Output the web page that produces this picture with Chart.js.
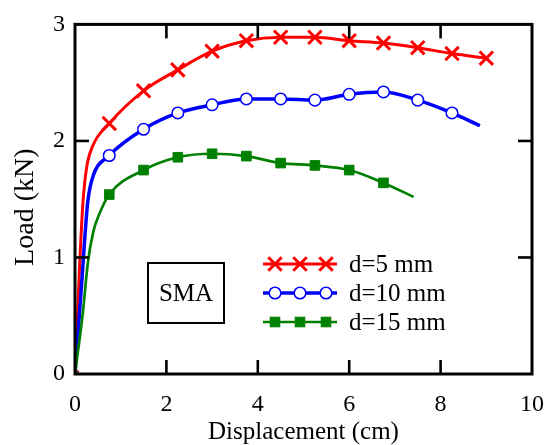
<!DOCTYPE html>
<html><head><meta charset="utf-8">
<script src="https://cdn.jsdelivr.net/npm/chart.js@4.4.1/dist/chart.umd.min.js"></script>
<style>html,body{margin:0;padding:0;background:#fff;} canvas{display:block;}</style>
</head><body>
<canvas id="c" width="560" height="445"></canvas>
<script>
// ---- data ----
const xTickValues = [0, 2, 4, 6, 8, 10];
const yTickValues = [0, 1, 2, 3];
const seriesNames = ['d=5 mm', 'd=10 mm', 'd=15 mm'];

// marker points (cm, kN)
const mark5X  = [0, 0.75, 1.5, 2.25, 3, 3.75, 4.5, 5.25, 6, 6.75, 7.5, 8.25, 9];
const mark5Y  = [0, 2.15, 2.43, 2.61, 2.77, 2.86, 2.89, 2.89, 2.86, 2.84, 2.80, 2.75, 2.71];
const mark10X = [0, 0.75, 1.5, 2.25, 3, 3.75, 4.5, 5.25, 6, 6.75, 7.5, 8.25];
const mark10Y = [0, 1.875, 2.10, 2.24, 2.31, 2.36, 2.36, 2.35, 2.40, 2.42, 2.35, 2.24];
const mark15X = [0, 0.75, 1.5, 2.25, 3, 3.75, 4.5, 5.25, 6, 6.75];
const mark15Y = [0, 1.54, 1.75, 1.86, 1.89, 1.87, 1.81, 1.79, 1.75, 1.64];

// extra curve points without markers (initial rise and curve ends)
const curve5X  = [0.10, 0.17, 0.25, 0.38];
const curve5Y  = [0.92, 1.45, 1.76, 1.95];
const curve10X = [0.15, 0.22, 0.28, 0.38, 8.86];
const curve10Y = [0.80, 1.20, 1.48, 1.68, 2.13];
const curve15X = [0.17, 0.28, 0.40, 0.53, 7.41];
const curve15Y = [0.52, 0.95, 1.22, 1.37, 1.52];

function buildPoints(mx, my, cx, cy) {
  const pts = mx.map((x, i) => ({x: x, y: my[i], m: true}));
  cx.forEach((x, i) => pts.push({x: x, y: cy[i], m: false}));
  pts.sort((a, b) => a.x - b.x);
  return pts;
}

const RED = '#ff0000', BLUE = '#0000ff', GREEN = '#008000';
const SERIF = "'Liberation Serif', 'Times New Roman', serif";

const styles = [
  {color: RED,   lw: 3,   style: 'crossRot', r: 9.5, fill: RED,   bw: 3},
  {color: BLUE,  lw: 3.5, style: 'circle',   r: 5.8, fill: '#ffffff', bw: 1.5},
  {color: GREEN, lw: 2.7, style: 'rect',     r: 6.8, fill: GREEN, bw: 1}
];

const pointSets = [
  buildPoints(mark5X, mark5Y, curve5X, curve5Y),
  buildPoints(mark10X, mark10Y, curve10X, curve10Y),
  buildPoints(mark15X, mark15Y, curve15X, curve15Y)
];

const datasets = pointSets.map((pts, i) => {
  const s = styles[i];
  return {
    label: seriesNames[i],
    data: pts,
    borderColor: s.color,
    borderWidth: s.lw,
    backgroundColor: s.fill,
    pointStyle: s.style,
    pointBorderColor: s.color,
    pointBackgroundColor: s.fill,
    pointBorderWidth: s.bw,
    pointRadius: ctx => (ctx.raw && ctx.raw.m) ? (ctx.raw.x === 0 ? s.r * 0.5 : s.r) : 0,
    pointHoverRadius: 0,
    cubicInterpolationMode: 'monotone',
    fill: false,
    order: 3 - i
  };
});

function drawMarker(ctx, s, x, y) {
  ctx.save();
  ctx.strokeStyle = s.color;
  ctx.fillStyle = s.fill;
  ctx.lineWidth = s.bw;
  if (s.style === 'crossRot') {
    const o = s.r * Math.SQRT1_2;
    ctx.beginPath();
    ctx.moveTo(x - o, y - o); ctx.lineTo(x + o, y + o);
    ctx.moveTo(x - o, y + o); ctx.lineTo(x + o, y - o);
    ctx.stroke();
  } else if (s.style === 'circle') {
    ctx.beginPath(); ctx.arc(x, y, s.r, 0, Math.PI * 2);
    ctx.fill(); ctx.stroke();
  } else {
    const h = s.r * Math.SQRT1_2;
    ctx.fillRect(x - h, y - h, 2 * h, 2 * h);
    ctx.strokeRect(x - h, y - h, 2 * h, 2 * h);
  }
  ctx.restore();
}

const framePlugin = {
  id: 'frame',
  afterDatasetsDraw(chart) {
    const {ctx, chartArea: a, scales: {x, y}} = chart;
    ctx.save();
    ctx.strokeStyle = '#000';
    ctx.lineWidth = 2.6;
    ctx.lineCap = 'butt';
    const L = 14;
    const seg = (x1, y1, x2, y2) => { ctx.beginPath(); ctx.moveTo(x1, y1); ctx.lineTo(x2, y2); ctx.stroke(); };
    x.ticks.forEach(t => {
      if (t.value <= x.min || t.value >= x.max) return;
      const px = x.getPixelForValue(t.value);
      seg(px, a.bottom, px, a.bottom - L);
      seg(px, a.top, px, a.top + L);
    });
    y.ticks.forEach(t => {
      if (t.value <= y.min || t.value >= y.max) return;
      const py = y.getPixelForValue(t.value);
      seg(a.left, py, a.left + L, py);
      seg(a.right, py, a.right - L, py);
    });
    ctx.lineWidth = 3;
    ctx.strokeRect(a.left, a.top, a.right - a.left, a.bottom - a.top);

    // y axis title
    ctx.save();
    ctx.translate(26, (a.top + a.bottom) / 2 + 8);
    ctx.rotate(-Math.PI / 2);
    ctx.fillStyle = '#000';
    ctx.font = '28px ' + SERIF;
    ctx.textAlign = 'center';
    ctx.textBaseline = 'middle';
    ctx.fillText('Load (kN)', 0, 0);
    ctx.restore();

    // SMA label box
    ctx.lineWidth = 2;
    ctx.strokeRect(148, 263, 76, 60);
    ctx.fillStyle = '#000';
    ctx.font = '25px ' + SERIF;
    ctx.textAlign = 'center';
    ctx.textBaseline = 'middle';
    ctx.fillText('SMA', 186, 294);

    // legend
    const ly = [264, 293, 322];
    const mx = [275, 300, 326];
    ctx.textAlign = 'left';
    ctx.font = '25px ' + SERIF;
    styles.forEach((s, i) => {
      ctx.strokeStyle = s.color;
      ctx.lineWidth = s.lw;
      seg(263, ly[i], 337, ly[i]);
      mx.forEach(m => drawMarker(ctx, s, m, ly[i]));
      ctx.fillStyle = '#000';
      ctx.fillText(seriesNames[i], 349, ly[i] + 1);
    });
    ctx.restore();
  }
};

new Chart(document.getElementById('c'), {
  type: 'line',
  data: {datasets: datasets},
  options: {
    responsive: false,
    animation: false,
    devicePixelRatio: 1,
    layout: {padding: {left: 0, right: 11, top: 22, bottom: 0}},
    plugins: {legend: {display: false}, tooltip: {enabled: false}},
    scales: {
      x: {
        type: 'linear', min: 0, max: 10,
        afterFit: s => { s.height = 71; },
        afterBuildTicks: s => { s.ticks = xTickValues.map(v => ({value: v})); },
        grid: {display: false, drawTicks: false},
        border: {display: false},
        ticks: {color: '#000', font: {family: SERIF, size: 24}, padding: 16, maxRotation: 0},
        title: {display: true, text: 'Displacement (cm)', color: '#000',
                font: {family: SERIF, size: 25, lineHeight: 1}, padding: {top: 0, bottom: 0}}
      },
      y: {
        type: 'linear', min: 0, max: 3,
        afterFit: s => { s.width = 75; },
        afterBuildTicks: s => { s.ticks = yTickValues.map(v => ({value: v})); },
        grid: {display: false, drawTicks: false},
        border: {display: false},
        ticks: {color: '#000', font: {family: SERIF, size: 24}, padding: 10},
        title: {display: false}
      }
    }
  },
  plugins: [framePlugin]
});
</script>
</body></html>
